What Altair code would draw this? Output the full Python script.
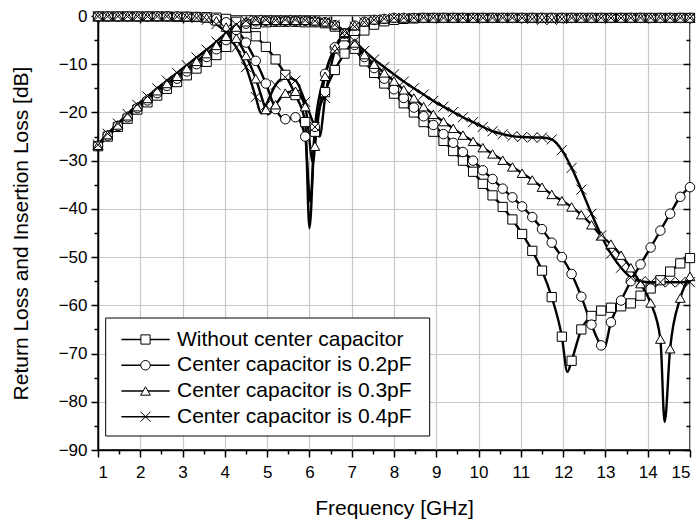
import altair as alt
import pandas as pd

# ---------------- data ----------------
FREQ = [1.00, 1.23, 1.47, 1.70, 1.93, 2.17, 2.40, 2.63, 2.87, 3.10,
        3.33, 3.57, 3.80, 4.03, 4.27, 4.50, 4.73, 4.97, 5.20, 5.43,
        5.67, 5.90, 6.13, 6.37, 6.60, 6.83, 7.07, 7.30, 7.53, 7.77,
        8.00, 8.23, 8.47, 8.70, 8.93, 9.17, 9.40, 9.63, 9.87, 10.10,
        10.33, 10.57, 10.80, 11.03, 11.27, 11.50, 11.73, 11.97, 12.20, 12.43,
        12.67, 12.90, 13.13, 13.37, 13.60, 13.83, 14.07, 14.30, 14.53, 14.77,
        15.00]

SERIES = ["Without center capacitor", "Center capacitor is 0.2pF",
          "Center capacitor is 0.3pF", "Center capacitor is 0.4pF"]

# Return loss (S11)
S11_SQ = [-0.1, -0.1, -0.1, -0.1, -0.1, -0.1, -0.1, -0.1, -0.15, -0.15,
          -0.2, -0.25, -0.35, -0.6, -1.2, -2.4, -4.2, -6.4, -9.0, -12.2,
          -16.4, -22.0, -24.0, -15.8, -11.2, -7.8, -5.0, -3.0, -1.8, -1.1,
          -0.8, -0.6, -0.5, -0.4, -0.4, -0.4, -0.4, -0.4, -0.4, -0.4,
          -0.4, -0.4, -0.4, -0.4, -0.4, -0.4, -0.4, -0.4, -0.4, -0.4,
          -0.4, -0.4, -0.4, -0.4, -0.4, -0.4, -0.4, -0.4, -0.4, -0.4,
          -0.4]
S11_CI = [-0.1, -0.1, -0.1, -0.1, -0.1, -0.1, -0.1, -0.1, -0.1, -0.15,
          -0.2, -0.3, -0.6, -1.3, -2.8, -5.5, -9.3, -14.0, -19.3, -21.4,
          -21.0, -25.0, -23.0, -12.0, -6.5, -3.6, -2.0, -1.2, -0.8, -0.6,
          -0.4, -0.4, -0.4, -0.4, -0.4, -0.4, -0.4, -0.4, -0.4, -0.4,
          -0.4, -0.4, -0.4, -0.4, -0.4, -0.4, -0.4, -0.4, -0.4, -0.4,
          -0.4, -0.4, -0.4, -0.4, -0.4, -0.4, -0.4, -0.4, -0.4, -0.4,
          -0.4]
S11_TR = [-0.1, -0.1, -0.1, -0.1, -0.1, -0.1, -0.1, -0.1, -0.1, -0.15,
          -0.2, -0.4, -1.0, -2.3, -4.6, -8.2, -13.0, -19.4, -18.4, -16.0,
          -15.6, -18.8, -27.0, -12.5, -6.8, -3.6, -2.0, -1.2, -0.8, -0.6,
          -0.4, -0.4, -0.4, -0.4, -0.4, -0.4, -0.4, -0.4, -0.4, -0.4,
          -0.4, -0.4, -0.4, -0.4, -0.4, -0.4, -0.4, -0.4, -0.4, -0.4,
          -0.4, -0.4, -0.4, -0.4, -0.4, -0.4, -0.4, -0.4, -0.4, -0.4,
          -0.4]
S11_X = [-0.1, -0.1, -0.1, -0.1, -0.1, -0.1, -0.1, -0.1, -0.15, -0.2,
         -0.4, -0.8, -1.7, -3.4, -6.5, -10.6, -16.8, -18.5, -14.3, -12.7,
         -13.4, -17.8, -23.0, -17.0, -7.3, -4.0, -2.2, -1.3, -0.8, -0.6,
         -0.4, -0.4, -0.4, -0.4, -0.4, -0.4, -0.4, -0.4, -0.4, -0.4,
         -0.4, -0.4, -0.4, -0.4, -0.6, -0.8, -0.8, -0.6, -0.4, -0.4,
         -0.4, -0.4, -0.4, -0.4, -0.4, -0.4, -0.4, -0.4, -0.4, -0.4,
         -0.4]

# Insertion loss (S21)
S21_SQ = [-27.0, -25.0, -23.0, -21.3, -19.4, -17.9, -16.5, -15.1, -13.7, -12.3,
          -10.9, -9.5, -8.1, -6.4, -4.2, -2.4, -1.6, -1.3, -1.2, -1.2,
          -1.2, -1.3, -1.3, -1.5, -2.2, -4.2, -6.8, -9.4, -11.8, -14.0,
          -16.1, -18.1, -20.0, -22.0, -24.0, -25.9, -28.0, -30.0, -32.3, -34.8,
          -37.2, -39.6, -42.2, -45.2, -48.7, -52.8, -58.3, -66.5, -71.5, -65.0,
          -62.2, -61.1, -60.5, -60.2, -59.6, -58.0, -56.5, -54.8, -53.0, -51.3,
          -50.2]
S21_CI = [-26.9, -24.8, -22.8, -21.0, -19.1, -17.5, -16.0, -14.5, -13.0, -11.5,
          -10.0, -8.5, -6.9, -5.0, -2.9, -1.6, -1.1, -1.0, -1.0, -1.0,
          -1.0, -1.0, -1.1, -1.3, -1.9, -3.6, -6.0, -8.5, -10.8, -13.0,
          -15.2, -17.0, -19.0, -20.8, -22.6, -24.5, -26.3, -28.2, -30.0, -32.0,
          -33.8, -35.8, -37.6, -39.5, -41.7, -44.2, -47.0, -50.0, -53.5, -58.2,
          -64.0, -68.3, -63.5, -59.0, -55.0, -51.5, -48.0, -44.5, -41.0, -37.5,
          -35.5]
S21_TR = [-26.8, -24.6, -22.6, -20.7, -18.8, -17.1, -15.5, -14.0, -12.5, -10.9,
          -9.4, -7.8, -6.1, -4.2, -2.3, -1.2, -0.9, -0.9, -0.9, -0.9,
          -0.9, -0.9, -1.0, -1.2, -1.8, -3.4, -5.6, -8.0, -10.0, -11.8,
          -13.5, -15.3, -17.0, -18.8, -20.4, -21.9, -23.3, -24.7, -26.0, -27.3,
          -28.6, -29.9, -31.3, -32.6, -34.0, -35.5, -37.0, -38.3, -39.6, -41.2,
          -43.3, -45.6, -47.3, -49.6, -52.2, -55.5, -59.5, -67.0, -69.0, -58.5,
          -54.0]
S21_X = [-26.7, -24.4, -22.3, -20.3, -18.4, -16.7, -15.0, -13.4, -11.8, -10.2,
         -8.6, -7.0, -5.3, -3.5, -1.8, -1.0, -0.8, -0.8, -0.9, -0.8,
         -0.8, -0.9, -1.0, -1.2, -1.8, -3.2, -5.2, -7.2, -9.0, -10.6,
         -12.1, -13.6, -15.0, -16.3, -17.6, -18.8, -19.9, -21.0, -22.0, -23.0,
         -23.9, -24.5, -24.9, -25.1, -25.2, -25.2, -25.6, -27.8, -31.5, -36.0,
         -41.0, -45.5, -49.3, -52.2, -54.2, -55.0, -55.2, -55.2, -55.2, -55.2,
         -55.2]

# Sharp resonance tips lying between marker positions (line only, no marker)
TIP_S11_SQ = ([6.00], [-44.0])
TIP_S11_CI = ([6.02], [-38.5])
TIP_S11_TR = ([5.02, 6.09], [-20.4, -30.5])
TIP_S11_X = ([4.86, 6.24], [-20.2, -25.0])
TIP_S21_SQ = ([12.10], [-73.8])
TIP_S21_CI = ([12.97], [-68.7])
TIP_S21_TR = ([14.40], [-84.2])
TIP_S21_X = ([], [])

CURVES = [
    (SERIES[0], "S11", S11_SQ, TIP_S11_SQ), (SERIES[0], "S21", S21_SQ, TIP_S21_SQ),
    (SERIES[1], "S11", S11_CI, TIP_S11_CI), (SERIES[1], "S21", S21_CI, TIP_S21_CI),
    (SERIES[2], "S11", S11_TR, TIP_S11_TR), (SERIES[2], "S21", S21_TR, TIP_S21_TR),
    (SERIES[3], "S11", S11_X, TIP_S11_X), (SERIES[3], "S21", S21_X, TIP_S21_X),
]

line_rows, mark_rows = [], []
for name, kind, vals, (tf, tv) in CURVES:
    assert len(vals) == len(FREQ)
    for f, v in zip(FREQ, vals):
        line_rows.append({"f": f, "db": v, "series": name, "key": name + kind})
        mark_rows.append({"f": f, "db": v, "series": name})
    for f, v in zip(tf, tv):
        line_rows.append({"f": f, "db": v, "series": name, "key": name + kind})
line_df = pd.DataFrame(line_rows)
mark_df = pd.DataFrame(mark_rows)
legend_df = pd.DataFrame({"series": SERIES})

# ---------------- styling ----------------
FONT = "Liberation Sans"
W, H = 592, 434
xs = alt.Scale(domain=[1, 15], nice=False, zero=False)
ys = alt.Scale(domain=[-90, 0], nice=False, zero=False)

X_MAJOR = list(range(1, 16))
X_MINOR = [v + 0.5 for v in range(1, 15)]
Y_MAJOR = list(range(-90, 1, 10))
Y_MINOR = list(range(-85, 0, 10))

MARK_SHAPES = ["square", "circle", "triangle-up", "M-1,-1L1,1M-1,1L1,-1"]
MARK_SIZES = [85, 100, 120, 110]
shape_enc = alt.Shape("series:N", scale=alt.Scale(domain=SERIES, range=MARK_SHAPES), legend=None)
size_enc = alt.Size("series:N", scale=alt.Scale(domain=SERIES, range=MARK_SIZES), legend=None)

common_axis = dict(domainColor="black", domainWidth=1.5, tickColor="black",
                   tickWidth=1.5, labelFont=FONT, labelColor="black",
                   titleFont=FONT, titleColor="black", titleFontWeight="normal",
                   gridColor="#c8c8c8", gridWidth=1.2)

x_main = alt.Axis(orient="bottom", values=X_MAJOR, format="d", tickSize=7,
                  labelFontSize=17, labelPadding=7, title="Frequency [GHz]",
                  titleFontSize=21, titlePadding=17, grid=True, **common_axis)
y_main = alt.Axis(orient="left", values=Y_MAJOR, format="d", tickSize=7,
                  labelFontSize=17, labelPadding=4,
                  title="Return Loss and Insertion Loss [dB]",
                  titleFontSize=21, titlePadding=27, grid=True, **common_axis)

lines = alt.Chart(line_df).mark_line(
    interpolate="monotone", color="black", strokeWidth=2.4
).encode(
    x=alt.X("f:Q", scale=xs, axis=x_main),
    y=alt.Y("db:Q", scale=ys, axis=y_main),
    detail="key:N",
    order=alt.Order("f:Q"),
)

points = alt.Chart(mark_df).mark_point(
    filled=True, fill="white", stroke="black", strokeWidth=1, opacity=1
).encode(
    x=alt.X("f:Q", scale=xs, axis=None),
    y=alt.Y("db:Q", scale=ys, axis=None),
    shape=shape_enc,
    size=size_enc,
)


def tick_layer(xaxis, yaxis):
    return alt.Chart(mark_df).mark_point(opacity=0).encode(
        x=alt.X("f:Q", scale=xs, axis=xaxis),
        y=alt.Y("db:Q", scale=ys, axis=yaxis),
    )


tick_common = dict(labels=False, grid=False, domain=False, title=None,
                   tickColor="black", tickWidth=1.5)
minor_lb = tick_layer(
    alt.Axis(orient="bottom", values=X_MINOR, tickSize=4, **tick_common),
    alt.Axis(orient="left", values=Y_MINOR, tickSize=4, **tick_common),
)
major_tr = tick_layer(
    alt.Axis(orient="top", values=X_MAJOR, tickSize=7, offset=-7, **tick_common),
    alt.Axis(orient="right", values=Y_MAJOR, tickSize=7, offset=-7, **tick_common),
)
minor_tr = tick_layer(
    alt.Axis(orient="top", values=X_MINOR, tickSize=4, offset=-4, **tick_common),
    alt.Axis(orient="right", values=Y_MINOR, tickSize=4, offset=-4, **tick_common),
)

# ---------------- legend (boxed, Origin style) ----------------
row_y = alt.Y("series:N", axis=None,
              scale=alt.Scale(type="point", domain=SERIES, range=[323.5, 400.7], padding=0))

leg_box = alt.Chart(legend_df.head(1)).mark_rect(
    fill="white", stroke="black", strokeWidth=1
).encode(
    x=alt.value(7.7), x2=alt.value(331.7), y=alt.value(302), y2=alt.value(420)
)
leg_line = alt.Chart(legend_df).mark_rule(color="black", strokeWidth=1.5).encode(
    x=alt.value(23.4), x2=alt.value(71.7), y=row_y
)
leg_mark = alt.Chart(legend_df).mark_point(
    filled=True, fill="white", stroke="black", strokeWidth=1, opacity=1
).encode(
    x=alt.value(47.5), y=row_y, shape=shape_enc, size=size_enc
)
leg_text = alt.Chart(legend_df).mark_text(
    align="left", baseline="middle", font=FONT, fontSize=21, color="black"
).encode(
    x=alt.value(79), y=row_y, text="series:N"
)

chart = alt.layer(
    lines, points, minor_lb, major_tr, minor_tr,
    leg_box, leg_line, leg_mark, leg_text
).resolve_axis(
    x="independent", y="independent"
).resolve_scale(
    y="independent"
).properties(
    width=W, height=H, autosize="none",
    padding={"left": 98, "top": 16, "right": 10, "bottom": 70},
    background="white",
).configure_view(
    stroke="black", strokeWidth=1.5
)

chart.save("out.html", embed_options={"renderer": "svg", "actions": False})
